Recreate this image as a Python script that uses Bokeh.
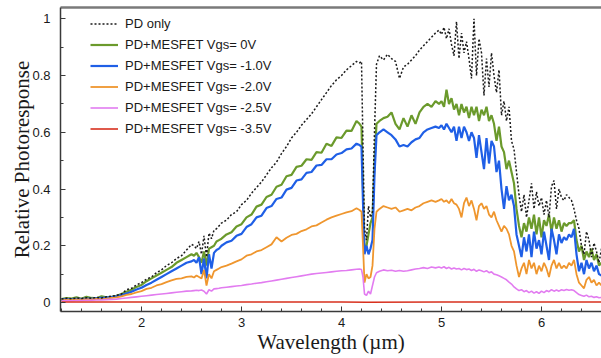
import numpy as np
from bokeh.plotting import figure
from bokeh.models import Range1d, LinearAxis, FixedTicker, Legend, LegendItem
from bokeh.embed import file_html
from bokeh.resources import INLINE

# wavelength sampling (µm)
wl = np.round(np.concatenate([
    np.arange(1.20, 2.501, 0.05),
    np.arange(2.525, 2.801, 0.025),
    np.arange(2.85, 4.151, 0.05),
    [4.18, 4.20],
    [4.215, 4.23, 4.25, 4.27, 4.29, 4.31, 4.33, 4.35],
    np.arange(4.38, 4.941, 0.04),
    np.arange(4.975, 6.601, 0.025),
]), 3)

pd_only = [
    0.012, 0.015, 0.013, 0.016, 0.014, 0.017, 0.015, 0.018, 0.016, 0.020, 0.022, 0.025, 0.030, 0.045,
    0.050, 0.062, 0.070, 0.082, 0.090, 0.105, 0.115, 0.130, 0.140, 0.155, 0.165, 0.185, 0.205,
    0.200, 0.190, 0.215, 0.170, 0.235, 0.160, 0.245, 0.225, 0.255, 0.260, 0.270, 0.280,
    0.290, 0.310, 0.320, 0.345, 0.360, 0.385, 0.405, 0.425, 0.450, 0.475, 0.495, 0.525, 0.550, 0.580,
    0.600, 0.625, 0.645, 0.665, 0.690, 0.715, 0.740, 0.765, 0.785, 0.800, 0.820, 0.835, 0.850,
    0.845, 0.850,
    0.550, 0.260, 0.220, 0.340, 0.300, 0.320, 0.600, 0.840,
    0.870, 0.855, 0.875, 0.860, 0.850, 0.790, 0.830, 0.840, 0.855, 0.870, 0.890, 0.905, 0.920, 0.935, 0.950,
    0.960, 0.945, 0.970, 0.930, 0.965, 0.910, 0.870, 0.990, 0.860, 0.950, 0.880, 0.920, 0.860, 0.790,
    1.000, 0.800, 0.930, 0.880, 0.730, 0.860, 0.760, 0.880, 0.800, 0.740, 0.820, 0.660, 0.710, 0.640,
    0.690, 0.570, 0.540, 0.460, 0.380, 0.320, 0.380, 0.300, 0.360, 0.420, 0.330, 0.390, 0.340, 0.370,
    0.310, 0.360, 0.300, 0.410, 0.430, 0.330, 0.400, 0.370, 0.360, 0.380, 0.370, 0.360, 0.330, 0.290,
    0.260, 0.200, 0.170, 0.250, 0.220, 0.160, 0.210, 0.180, 0.140, 0.190,
]

vgs_0 = [
    0.012, 0.016, 0.014, 0.018, 0.013, 0.020, 0.016, 0.015, 0.022, 0.018, 0.020, 0.024, 0.030, 0.038,
    0.045, 0.055, 0.062, 0.075, 0.085, 0.095, 0.105, 0.115, 0.125, 0.140, 0.150, 0.160, 0.170,
    0.165, 0.175, 0.160, 0.140, 0.180, 0.130, 0.190, 0.195, 0.200, 0.215, 0.220, 0.225,
    0.240, 0.248, 0.268, 0.276, 0.300, 0.310, 0.338, 0.345, 0.372, 0.380, 0.408, 0.415, 0.445, 0.450,
    0.478, 0.482, 0.505, 0.503, 0.530, 0.528, 0.560, 0.552, 0.582, 0.580, 0.606, 0.605, 0.640,
    0.630, 0.620,
    0.400, 0.180, 0.200, 0.240, 0.280, 0.300, 0.500, 0.630,
    0.640, 0.650, 0.655, 0.670, 0.630, 0.610, 0.650, 0.620, 0.660, 0.630, 0.670, 0.690, 0.700, 0.690, 0.710,
    0.700, 0.710, 0.690, 0.750, 0.700, 0.720, 0.680, 0.700, 0.660, 0.700, 0.670, 0.690, 0.650, 0.690,
    0.660, 0.690, 0.640, 0.680, 0.660, 0.690, 0.640, 0.660, 0.630, 0.570, 0.620, 0.550, 0.530, 0.470,
    0.500, 0.460, 0.420, 0.330, 0.270, 0.230, 0.280, 0.250, 0.300, 0.260, 0.310, 0.240, 0.300, 0.230,
    0.290, 0.270, 0.310, 0.250, 0.300, 0.260, 0.290, 0.250, 0.280, 0.270, 0.280, 0.280, 0.290, 0.220,
    0.180, 0.200, 0.150, 0.180, 0.160, 0.190, 0.150, 0.170, 0.130, 0.140,
]

vgs_m1 = [
    0.010, 0.012, 0.011, 0.013, 0.012, 0.014, 0.013, 0.015, 0.016, 0.017, 0.019, 0.022, 0.026, 0.032,
    0.038, 0.046, 0.052, 0.062, 0.070, 0.080, 0.090, 0.100, 0.110, 0.120, 0.130, 0.140, 0.145,
    0.150, 0.140, 0.160, 0.100, 0.155, 0.085, 0.170, 0.120, 0.175, 0.185, 0.190, 0.200,
    0.212, 0.218, 0.235, 0.242, 0.266, 0.276, 0.300, 0.306, 0.333, 0.340, 0.365, 0.370, 0.398, 0.404,
    0.430, 0.434, 0.457, 0.460, 0.483, 0.485, 0.505, 0.505, 0.522, 0.527, 0.540, 0.543, 0.560,
    0.555, 0.550,
    0.350, 0.170, 0.200, 0.170, 0.190, 0.220, 0.450, 0.590,
    0.600, 0.610, 0.600, 0.590, 0.575, 0.550, 0.555, 0.550, 0.565, 0.575, 0.580, 0.600, 0.610, 0.615, 0.620,
    0.615, 0.625, 0.610, 0.630, 0.615, 0.600, 0.620, 0.570, 0.620, 0.580, 0.620, 0.600, 0.570, 0.600,
    0.580, 0.510, 0.590, 0.530, 0.470, 0.580, 0.490, 0.570, 0.550, 0.460, 0.500, 0.400, 0.330, 0.410,
    0.360, 0.380, 0.340, 0.240, 0.200, 0.160, 0.230, 0.180, 0.240, 0.160, 0.250, 0.190, 0.220, 0.170,
    0.250, 0.200, 0.150, 0.260, 0.220, 0.170, 0.240, 0.210, 0.230, 0.220, 0.240, 0.230, 0.260, 0.170,
    0.110, 0.140, 0.100, 0.150, 0.120, 0.140, 0.110, 0.130, 0.100, 0.095,
]

vgs_m2 = [
    0.008, 0.010, 0.009, 0.011, 0.010, 0.012, 0.011, 0.013, 0.012, 0.014, 0.016, 0.018, 0.022, 0.027,
    0.030, 0.036, 0.040, 0.048, 0.052, 0.060, 0.065, 0.072, 0.078, 0.083, 0.085, 0.090, 0.092,
    0.088, 0.095, 0.090, 0.085, 0.115, 0.060, 0.100, 0.085, 0.110, 0.115, 0.120, 0.125,
    0.130, 0.137, 0.145, 0.152, 0.165, 0.170, 0.180, 0.185, 0.195, 0.205, 0.230, 0.215, 0.228, 0.238,
    0.242, 0.252, 0.258, 0.268, 0.272, 0.282, 0.292, 0.300, 0.306, 0.312, 0.318, 0.322, 0.332,
    0.326, 0.320,
    0.200, 0.070, 0.100, 0.085, 0.090, 0.130, 0.260, 0.320,
    0.330, 0.340, 0.335, 0.330, 0.335, 0.320, 0.325, 0.330, 0.325, 0.335, 0.340, 0.350, 0.355, 0.360, 0.355,
    0.360, 0.365, 0.355, 0.360, 0.350, 0.365, 0.350, 0.345, 0.330, 0.300, 0.350, 0.370, 0.340, 0.360,
    0.330, 0.290, 0.340, 0.350, 0.330, 0.340, 0.310, 0.300, 0.320, 0.290, 0.270, 0.250, 0.270, 0.260,
    0.240, 0.200, 0.180, 0.130, 0.090, 0.120, 0.140, 0.100, 0.150, 0.120, 0.140, 0.100, 0.130, 0.110,
    0.140, 0.120, 0.090, 0.130, 0.150, 0.120, 0.140, 0.120, 0.130, 0.120, 0.140, 0.130, 0.150, 0.100,
    0.070, 0.060, 0.050, 0.080, 0.090, 0.070, 0.080, 0.060, 0.070, 0.060,
]

vgs_m25 = [
    0.006, 0.007, 0.006, 0.007, 0.007, 0.008, 0.008, 0.009, 0.009, 0.010, 0.011, 0.012, 0.014, 0.016,
    0.018, 0.020, 0.022, 0.024, 0.026, 0.028, 0.030, 0.032, 0.034, 0.036, 0.038, 0.040, 0.041,
    0.042, 0.043, 0.042, 0.044, 0.040, 0.030, 0.045, 0.040, 0.048, 0.049, 0.050, 0.052,
    0.054, 0.056, 0.058, 0.060, 0.063, 0.065, 0.068, 0.070, 0.073, 0.076, 0.079, 0.082, 0.085, 0.088,
    0.091, 0.094, 0.097, 0.100, 0.102, 0.104, 0.106, 0.108, 0.110, 0.112, 0.113, 0.115, 0.117,
    0.118, 0.116,
    0.090, 0.030, 0.025, 0.040, 0.030, 0.060, 0.090, 0.105,
    0.110, 0.115, 0.112, 0.114, 0.110, 0.113, 0.110, 0.112, 0.115, 0.118, 0.120, 0.123, 0.120, 0.125, 0.122,
    0.125, 0.122, 0.126, 0.120, 0.124, 0.118, 0.122, 0.118, 0.120, 0.115, 0.120, 0.116, 0.118, 0.113,
    0.117, 0.110, 0.115, 0.112, 0.108, 0.112, 0.105, 0.108, 0.100, 0.098, 0.094, 0.090, 0.085, 0.080,
    0.072, 0.065, 0.055, 0.048, 0.042, 0.045, 0.038, 0.042, 0.035, 0.040, 0.033, 0.038, 0.032, 0.040,
    0.035, 0.042, 0.038, 0.045, 0.040, 0.044, 0.040, 0.045, 0.042, 0.046, 0.043, 0.045, 0.042, 0.035,
    0.028, 0.025, 0.022, 0.026, 0.020, 0.022, 0.018, 0.020, 0.017, 0.018,
]

wl_m35 = [1.20, 2.00, 3.00, 4.00, 4.25, 5.00, 6.00, 6.60]
vgs_m35 = [0.002, 0.002, 0.002, 0.002, 0.001, 0.002, 0.002, 0.002]

for s in (pd_only, vgs_0, vgs_m1, vgs_m2, vgs_m25):
    assert len(s) == len(wl), (len(s), len(wl))

labels = ["PD only", "PD+MESFET Vgs= 0V", "PD+MESFET Vgs= -1.0V",
          "PD+MESFET Vgs= -2.0V", "PD+MESFET Vgs= -2.5V", "PD+MESFET Vgs= -3.5V"]

p = figure(width=601, height=358, output_backend="svg", toolbar_location=None,
           x_range=Range1d(1.19, 6.60), y_range=Range1d(-0.0317, 1.04),
           min_border_left=60, min_border_right=0, min_border_top=7, min_border_bottom=47)
p.grid.visible = False
p.outline_line_color = None
p.background_fill_color = "white"
p.border_fill_color = "white"

r_g = p.line(wl, vgs_0, line_color="#6b9a2c", line_width=2.2)
r_b = p.line(wl, vgs_m1, line_color="#1f5fe6", line_width=2.2)
r_o = p.line(wl, vgs_m2, line_color="#ef962e", line_width=1.8)
r_v = p.line(wl, vgs_m25, line_color="#e27cf0", line_width=1.6)
r_r = p.line(wl_m35, vgs_m35, line_color="#d8301e", line_width=1.6)
r_k = p.line(wl, pd_only, line_color="#1a1a1a", line_width=1.5, line_dash="2 2")

legend = Legend(items=[LegendItem(label=l, renderers=[r]) for l, r in
                       zip(labels, [r_k, r_g, r_b, r_o, r_v, r_r])],
                location=(30, 172), margin=0, padding=0, spacing=0,
                glyph_width=28, glyph_height=21, label_height=21, label_standoff=7,
                label_text_font="Liberation Sans", label_text_font_size="13px",
                label_text_color="#1a1a1a", background_fill_alpha=0, border_line_color=None)
p.add_layout(legend)

ax_col = "#3a3a3a"
xa = p.xaxis[0]
xa.ticker = FixedTicker(ticks=[2, 3, 4, 5, 6],
                        minor_ticks=[round(1.2 + 0.2 * i, 1) for i in range(28)])
ya = p.yaxis[0]
ya.ticker = FixedTicker(ticks=[0, 0.2, 0.4, 0.6, 0.8, 1.0],
                        minor_ticks=[0.1, 0.3, 0.5, 0.7, 0.9])
ya.major_label_overrides = {0: "0", 0.2: "0.2", 0.4: "0.4", 0.6: "0.6", 0.8: "0.8", 1: "1"}

for ax in (xa, ya):
    ax.axis_line_color = ax_col
    ax.axis_line_width = 1.5
    ax.major_tick_line_color = ax_col
    ax.minor_tick_line_color = ax_col
    ax.major_tick_in = 5
    ax.major_tick_out = 0
    ax.minor_tick_in = 3
    ax.minor_tick_out = 0
    ax.major_label_text_font = "Liberation Sans"
    ax.major_label_text_font_size = "13px"
    ax.major_label_text_color = "#1a1a1a"
    ax.axis_label_text_font = "Liberation Serif"
    ax.axis_label_text_font_style = "normal"
    ax.axis_label_text_font_size = "21px"
    ax.axis_label_text_color = "#1a1a1a"

xa.axis_label = "Wavelength (µm)"
xa.major_label_standoff = 6
xa.axis_label_standoff = 0
ya.axis_label = "Relative Photoresponse"
ya.major_label_standoff = 10
ya.axis_label_standoff = -5

top = LinearAxis(ticker=FixedTicker(ticks=[]), major_label_text_font_size="0px",
                 major_label_standoff=0, major_tick_out=0, major_tick_in=0,
                 axis_line_color="#7a7a7a", axis_line_width=2.5,
                 major_tick_line_color=None, minor_tick_line_color=None)
p.add_layout(top, "above")

open("out.html", "w").write(file_html(p, INLINE))
